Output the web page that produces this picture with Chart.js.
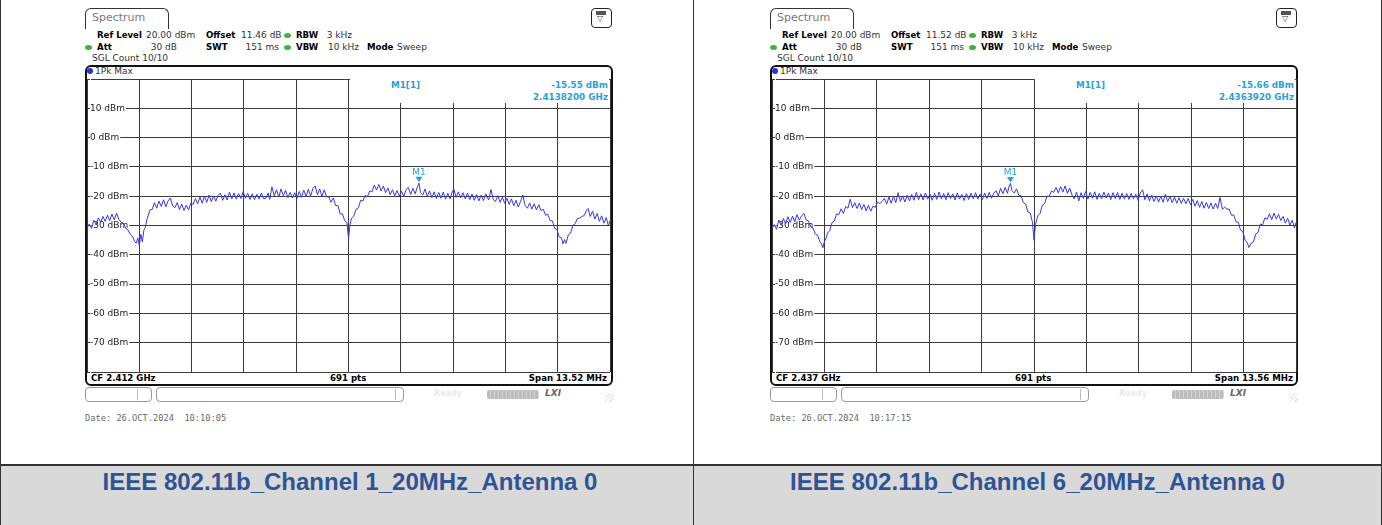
<!DOCTYPE html>
<html><head><meta charset="utf-8">
<script src="https://cdn.jsdelivr.net/npm/chart.js@4.4.1/dist/chart.umd.min.js"></script>
<style>
html,body{margin:0;padding:0;background:#fff;}
#page{position:relative;width:1382px;height:525px;overflow:hidden;background:#fff;font-family:'DejaVu Sans',sans-serif;}
.a{position:absolute;box-sizing:border-box;}
.t{position:absolute;font-size:9px;line-height:11px;height:11px;color:#333;white-space:nowrap;}
.b{font-weight:bold;color:#000;font-size:8.6px;}
.m{color:#2a9fd8;font-weight:bold;font-size:8.8px;}
.title{position:absolute;top:470px;font-family:'Liberation Sans',Arial,sans-serif;font-weight:bold;font-size:24px;line-height:24px;color:#2f5496;text-align:center;white-space:nowrap;}
</style></head>
<body><div id="page"></div>
<script>
// ---------------- data ----------------
// trace points: [point index (0..690 of 691 pts), level dBm]
const ch1Trace = [[0,-30.8],[3,-29.5],[6,-31.0],[9,-28.2],[12,-29.6],[15,-27.4],[18,-28.9],[21,-26.9],[24,-28.6],[27,-26.5],[30,-28.3],[33,-26.1],[36,-28.1],[39,-25.8],[42,-27.9],[45,-28.9],[48,-29.2],[51,-30.9],[54,-31.5],[57,-33.0],[60,-33.6],[63,-35.6],[65,-36.0],[67,-34.2],[69,-36.8],[71,-33.0],[73,-35.6],[75,-31.6],[77,-30.6],[79,-28.0],[81,-26.4],[83,-24.7],[86,-24.5],[89,-22.2],[92,-24.1],[95,-21.7],[98,-23.5],[101,-21.2],[104,-23.6],[107,-21.6],[110,-20.6],[113,-23.3],[116,-23.9],[119,-22.2],[122,-24.6],[125,-22.7],[128,-24.9],[131,-23.0],[134,-24.7],[137,-22.3],[140,-22.8],[143,-20.8],[146,-22.6],[149,-20.3],[152,-22.4],[155,-20.0],[158,-22.1],[161,-19.6],[164,-21.9],[167,-19.9],[170,-21.7],[173,-19.7],[176,-18.9],[179,-21.4],[182,-19.5],[185,-21.3],[188,-18.6],[191,-20.9],[194,-18.9],[197,-21.0],[200,-19.1],[203,-20.8],[206,-18.4],[209,-20.7],[212,-19.0],[215,-21.1],[218,-19.2],[221,-21.2],[224,-19.3],[227,-21.0],[230,-18.9],[233,-20.9],[236,-20.7],[239,-18.9],[241,-21.1],[244,-16.8],[247,-19.9],[250,-17.8],[253,-20.3],[256,-17.5],[259,-19.8],[262,-18.0],[265,-20.5],[268,-18.7],[271,-20.6],[274,-18.8],[277,-20.8],[280,-18.4],[283,-20.4],[286,-17.9],[289,-20.1],[292,-17.6],[295,-20.0],[298,-17.3],[301,-16.5],[304,-19.5],[307,-17.5],[310,-20.1],[313,-17.8],[316,-20.2],[319,-20.2],[322,-22.1],[325,-20.6],[328,-23.2],[331,-23.2],[334,-26.0],[337,-26.0],[340,-28.4],[343,-29.0],[345,-34.5],[347,-29.8],[349,-27.5],[352,-26.8],[355,-24.4],[358,-24.0],[361,-21.4],[364,-21.6],[367,-19.7],[370,-20.2],[373,-18.2],[376,-18.5],[379,-16.2],[382,-17.9],[385,-16.0],[388,-18.2],[391,-16.5],[394,-18.8],[397,-17.2],[400,-19.5],[403,-17.8],[406,-19.9],[409,-18.1],[412,-20.0],[415,-18.3],[418,-20.1],[421,-17.7],[424,-17.0],[427,-19.4],[430,-17.3],[433,-19.2],[436,-16.7],[438,-15.55],[440,-18.8],[443,-19.6],[446,-17.5],[449,-20.0],[452,-18.2],[455,-20.5],[458,-18.5],[461,-20.8],[464,-18.7],[467,-20.7],[470,-18.6],[473,-21.0],[476,-19.0],[479,-20.9],[482,-18.4],[484,-17.6],[487,-20.4],[490,-18.5],[493,-20.6],[496,-18.8],[499,-20.9],[502,-18.9],[505,-21.2],[508,-19.3],[511,-21.4],[514,-19.4],[517,-21.6],[520,-19.6],[523,-21.5],[526,-19.2],[530,-21.3],[533,-17.7],[536,-21.1],[539,-21.8],[542,-19.8],[545,-22.1],[548,-20.3],[551,-22.4],[554,-20.7],[557,-22.8],[560,-20.9],[563,-23.3],[566,-21.4],[569,-23.7],[572,-21.8],[575,-19.6],[578,-23.2],[581,-24.1],[584,-22.3],[587,-24.4],[590,-22.6],[593,-24.7],[596,-22.9],[599,-24.9],[602,-24.5],[605,-26.5],[608,-26.2],[611,-28.3],[614,-28.4],[617,-31.0],[620,-31.3],[623,-33.9],[626,-34.2],[628,-36.3],[630,-34.8],[632,-36.1],[635,-33.2],[638,-32.6],[641,-30.0],[644,-29.4],[647,-27.6],[650,-27.5],[653,-26.9],[656,-26.6],[659,-24.8],[661,-24.2],[664,-26.9],[667,-25.1],[670,-27.8],[673,-25.9],[676,-28.6],[679,-26.7],[682,-29.2],[685,-27.3],[688,-30.1],[690,-28.4]];

const ch6Trace = [[0,-31.0],[3,-29.7],[6,-31.3],[9,-28.2],[12,-29.9],[15,-27.6],[18,-29.4],[21,-27.0],[24,-29.0],[27,-26.8],[30,-28.7],[33,-26.3],[36,-28.2],[39,-26.6],[42,-25.9],[45,-28.1],[48,-28.4],[51,-30.4],[54,-30.8],[57,-32.9],[60,-33.3],[63,-35.5],[65,-36.2],[67,-37.6],[69,-35.5],[71,-34.6],[73,-32.6],[76,-31.8],[79,-29.0],[82,-28.5],[85,-26.0],[88,-26.3],[91,-24.3],[94,-25.9],[97,-23.5],[100,-24.1],[103,-21.0],[106,-23.9],[109,-22.2],[112,-24.2],[115,-22.3],[118,-24.6],[121,-22.8],[124,-25.0],[127,-23.1],[130,-25.1],[133,-23.4],[136,-23.8],[139,-22.0],[142,-22.5],[145,-21.8],[148,-20.7],[151,-22.7],[154,-20.3],[157,-22.4],[160,-20.0],[163,-22.2],[166,-18.8],[169,-21.8],[172,-19.9],[175,-22.0],[178,-19.7],[181,-21.6],[184,-19.4],[187,-21.4],[190,-18.7],[193,-21.2],[196,-19.2],[199,-21.3],[202,-18.9],[205,-21.0],[208,-19.3],[211,-21.4],[214,-19.0],[217,-21.1],[220,-18.6],[223,-20.9],[226,-19.1],[229,-21.2],[232,-18.8],[235,-20.8],[238,-19.2],[241,-21.3],[244,-18.9],[247,-21.0],[250,-19.4],[253,-21.5],[256,-19.1],[259,-21.1],[262,-19.0],[265,-20.9],[268,-18.8],[271,-21.0],[274,-19.3],[277,-21.2],[280,-18.9],[283,-20.8],[286,-18.7],[289,-20.7],[292,-19.0],[295,-18.1],[298,-19.9],[301,-17.3],[304,-19.2],[307,-17.0],[310,-19.0],[312,-16.8],[314,-15.66],[316,-18.1],[319,-18.9],[322,-17.5],[325,-19.7],[328,-19.8],[331,-22.2],[334,-22.7],[337,-25.4],[340,-25.7],[343,-28.9],[345,-35.0],[347,-29.6],[350,-26.7],[353,-25.9],[356,-23.0],[359,-22.5],[362,-20.0],[365,-20.1],[368,-18.2],[371,-18.7],[374,-17.0],[377,-18.9],[380,-16.7],[383,-18.6],[386,-16.5],[389,-19.0],[392,-17.2],[395,-19.6],[398,-20.9],[401,-18.6],[404,-21.6],[407,-18.8],[410,-20.8],[413,-18.4],[416,-21.0],[419,-18.7],[422,-20.7],[425,-18.5],[428,-21.1],[431,-19.0],[434,-20.9],[437,-18.6],[440,-20.6],[443,-18.9],[446,-21.2],[449,-18.8],[452,-20.8],[455,-18.7],[458,-21.1],[461,-19.0],[464,-21.0],[467,-19.1],[470,-21.1],[473,-19.0],[476,-20.9],[479,-19.3],[482,-21.4],[485,-18.9],[488,-17.8],[491,-21.2],[494,-19.2],[497,-21.6],[500,-19.7],[503,-21.8],[506,-19.9],[509,-22.0],[512,-20.0],[515,-22.1],[518,-19.3],[521,-21.8],[524,-20.1],[527,-22.2],[530,-20.3],[533,-22.4],[536,-20.5],[539,-22.5],[542,-20.7],[545,-22.6],[548,-20.8],[551,-22.9],[554,-21.1],[557,-23.4],[560,-21.5],[563,-23.8],[566,-21.8],[569,-24.1],[572,-22.1],[575,-24.2],[578,-22.3],[581,-24.4],[584,-22.4],[587,-24.2],[590,-20.4],[593,-24.5],[596,-23.7],[599,-24.4],[602,-24.4],[605,-26.5],[608,-26.4],[611,-28.7],[614,-28.9],[617,-31.6],[620,-32.0],[623,-35.0],[626,-35.9],[628,-37.5],[631,-36.0],[634,-35.6],[637,-32.9],[640,-32.3],[643,-29.5],[646,-29.8],[649,-27.4],[652,-27.9],[655,-26.0],[658,-28.0],[661,-25.8],[664,-27.8],[667,-26.2],[670,-28.3],[673,-26.9],[676,-29.2],[679,-27.5],[682,-29.9],[685,-28.2],[688,-30.8],[690,-29.0]];

const xGridIdx = [0,69,138,207,276,345,414,483,552,621,690];
const yTicksDbm = [20,10,0,-10,-20,-30,-40,-50,-60,-70,-80];
const markerIdx = [438, 314];
const markerLevel = [-15.55, -15.66];
const markerFreq = ['2.4138200 GHz', '2.4363920 GHz'];
const offsets = ['11.46 dB', '11.52 dB'];
const centerFreqs = ['CF 2.412 GHz', 'CF 2.437 GHz'];
const spans = ['Span 13.52 MHz', 'Span 13.56 MHz'];
const dates = ['Date: 26.OCT.2024  10:10:05', 'Date: 26.OCT.2024  10:17:15'];
const titles = ['IEEE 802.11b_Channel 1_20MHz_Antenna 0', 'IEEE 802.11b_Channel 6_20MHz_Antenna 0'];
const traces = [ch1Trace, ch6Trace];

// ---------------- layout helpers ----------------
const page = document.getElementById('page');
function el(css, html, cls) {
  const d = document.createElement('div');
  d.className = cls || 'a';
  d.style.cssText = css;
  if (html !== undefined) d.innerHTML = html;
  page.appendChild(d);
  return d;
}
function txt(x, yc, s, cls, align) {
  const d = document.createElement('div');
  d.className = 't ' + (cls || '');
  d.textContent = s;
  d.style.top = (yc - 5.5) + 'px';
  if (align === 'r') d.style.right = (1382 - x) + 'px'; else d.style.left = x + 'px';
  page.appendChild(d);
  return d;
}
function dot(x, yc, color, w, h) {
  el(`left:${x}px;top:${yc - h/2}px;width:${w}px;height:${h}px;border-radius:50%;background:${color};`);
}

// table
el('left:0;top:465px;width:1382px;height:60px;background:#d9d9d9;');
el('left:0;top:464px;width:1382px;height:2px;background:#333;');
el('left:0;top:0;width:1px;height:525px;background:#333;');
el('left:1381px;top:0;width:1px;height:525px;background:#333;');
el('left:693px;top:0;width:1px;height:525px;background:#333;');

const markerPlugin = {
  id: 'marker',
  afterDatasetsDraw(chart, args, o) {
    const {ctx, scales: {x, y}} = chart;
    const px = x.getPixelForValue(o.idx), py = y.getPixelForValue(o.level);
    ctx.save();
    ctx.fillStyle = '#2a9fd8';
    ctx.beginPath();
    ctx.moveTo(px - 3.5, py - 6.5); ctx.lineTo(px + 3.5, py - 6.5); ctx.lineTo(px, py - 1); ctx.closePath();
    ctx.fill();
    ctx.font = '9px "DejaVu Sans"';
    ctx.textAlign = 'center'; ctx.textBaseline = 'middle';
    ctx.fillText('M1', px, py - 11);
    ctx.restore();
  }
};

function panel(i, ox, cw) {
  const X = v => v + ox;
  // tab
  el(`left:${X(85)}px;top:8px;width:84px;height:21px;border:1px solid #333;border-bottom:none;border-radius:6px 6px 0 0;`);
  el(`left:${X(92)}px;top:11px;font-size:11px;line-height:14px;color:#7a7a7a;`, 'Spectrum');
  // icon
  el(`left:${X(591)}px;top:8px;width:21px;height:20px;border:1.5px solid #222;border-radius:4px;background:#fff;`);
  el(`left:${X(596)}px;top:11px;width:10px;height:4px;background:#555;`);
  el(`left:${X(597)}px;top:14px;font-size:8px;line-height:10px;color:#444;`, '\u25BD');
  // header
  txt(X(97), 35, 'Ref Level', 'b'); txt(X(146), 35, '20.00 dBm');
  txt(X(206), 35, 'Offset', 'b'); txt(X(241), 35, offsets[i]);
  dot(X(284), 35, '#3cb43c', 7, 5);
  txt(X(296), 35, 'RBW', 'b'); txt(X(352), 35, '3 kHz', '', 'r');
  dot(X(85), 47, '#3cb43c', 7, 5);
  txt(X(97), 47, 'Att', 'b'); txt(X(177), 47, '30 dB', '', 'r');
  txt(X(206), 47, 'SWT', 'b'); txt(X(279), 47, '151 ms', '', 'r');
  dot(X(284), 47, '#3cb43c', 7, 5);
  txt(X(296), 47, 'VBW', 'b'); txt(X(328), 47, '10 kHz');
  txt(X(367), 47, 'Mode', 'b'); txt(X(397), 47, 'Sweep');
  txt(X(92), 58, 'SGL Count 10/10');
  // plot box
  el(`left:${X(85)}px;top:65px;width:528px;height:321px;border:2px solid #111;border-radius:6px;`);
  dot(X(87), 71, '#2233dd', 6, 6);
  txt(X(95), 71, '1Pk Max');
  // chart (chart area starts at the canvas' left/top edge)
  const wrap = el(`left:${X(87)}px;top:79px;width:${cw}px;height:294px;`);
  const cv = document.createElement('canvas');
  cv.width = cw; cv.height = 294;
  wrap.appendChild(cv);
  new Chart(cv, {
    type: 'line',
    data: { datasets: [{ data: traces[i].map(p => ({x: p[0], y: p[1]})), borderColor: '#3838e0', borderWidth: 1, pointRadius: 0, tension: 0 }] },
    options: {
      responsive: false, animation: false, events: [],
      layout: { autoPadding: false, padding: { top: 0, right: 1, bottom: 1, left: 0 } },
      plugins: { legend: { display: false }, tooltip: { enabled: false }, marker: { idx: markerIdx[i], level: markerLevel[i] } },
      scales: {
        x: { type: 'linear', min: 0, max: 690,
             afterBuildTicks: s => { s.ticks = xGridIdx.map(v => ({value: v})); },
             afterFit: s => { s.height = 0; s.paddingLeft = 0; s.paddingRight = 0; },
             ticks: { display: false },
             grid: { color: '#3c3c3c', lineWidth: 1, drawTicks: false },
             border: { display: false } },
        y: { type: 'linear', min: -80, max: 20,
             afterBuildTicks: s => { s.ticks = yTicksDbm.map(v => ({value: v})); },
             afterFit: s => { s.width = 0; s.paddingTop = 0; s.paddingBottom = 0; },
             ticks: { mirror: true, padding: 3, color: '#222', font: { family: 'DejaVu Sans', size: 9 },
                      callback: v => (v >= 20 || v <= -80) ? '' : v + ' dBm',
                      showLabelBackdrop: true, backdropColor: '#fff', backdropPadding: { top: 0, bottom: 0, left: 0, right: 1 } },
             grid: { color: '#3c3c3c', lineWidth: 1, drawTicks: false },
             border: { display: false } }
      }
    },
    plugins: [markerPlugin]
  });
  const cr = cw - 524; // extra width of right panel
  // marker info area
  el(`left:${X(350)}px;top:78px;width:${259 + cr}px;height:25px;background:#fff;`);
  txt(X(391), 85, 'M1[1]', 'm');
  txt(X(608) + cr, 85, (markerLevel[i]).toFixed(2) + ' dBm', 'm', 'r');
  txt(X(608) + cr, 97, markerFreq[i], 'm', 'r');
  // bottom bar
  txt(X(91), 378, centerFreqs[i], 'b');
  txt(X(330), 378, '691 pts', 'b');
  txt(X(607) + cr, 378, spans[i], 'b', 'r');
  // status bar
  el(`left:${X(85)}px;top:387px;width:67px;height:15px;border:1px solid #9a9a9a;border-radius:4px;`);
  el(`left:${X(137)}px;top:389px;width:1px;height:11px;background:#bbb;`);
  el(`left:${X(156)}px;top:387px;width:248px;height:15px;border:1px solid #9a9a9a;border-radius:4px;`);
  el(`left:${X(395)}px;top:389px;width:1px;height:11px;background:#bbb;`);
  el(`left:${X(434)}px;top:389px;font-size:8px;line-height:10px;color:#eaeaea;font-weight:bold;`, 'Ready');
  el(`left:${X(487)}px;top:390px;width:52px;height:9px;background:repeating-linear-gradient(90deg,#bdbdbd 0 3px,#d4d4d4 3px 4px);border-radius:2px;`);
  el(`left:${X(545)}px;top:388px;font-size:9px;line-height:11px;color:#666;font-style:italic;font-weight:bold;`, 'LXI');
  el(`left:${X(605)}px;top:393px;width:8px;height:9px;background:repeating-linear-gradient(135deg,#ddd 0 1px,#fff 1px 3px);`);
  // date
  el(`left:${X(85)}px;top:413px;font-family:'DejaVu Sans Mono',monospace;font-size:8.7px;line-height:10px;color:#6a6a6a;white-space:pre;`, dates[i]);
  // title
  el(`left:${i === 0 ? 0 : 694}px;width:${i === 0 ? 700 : 687}px;`, titles[i], 'title');
}
panel(0, 0, 524);
panel(1, 685, 525);
</script>
</body></html>
